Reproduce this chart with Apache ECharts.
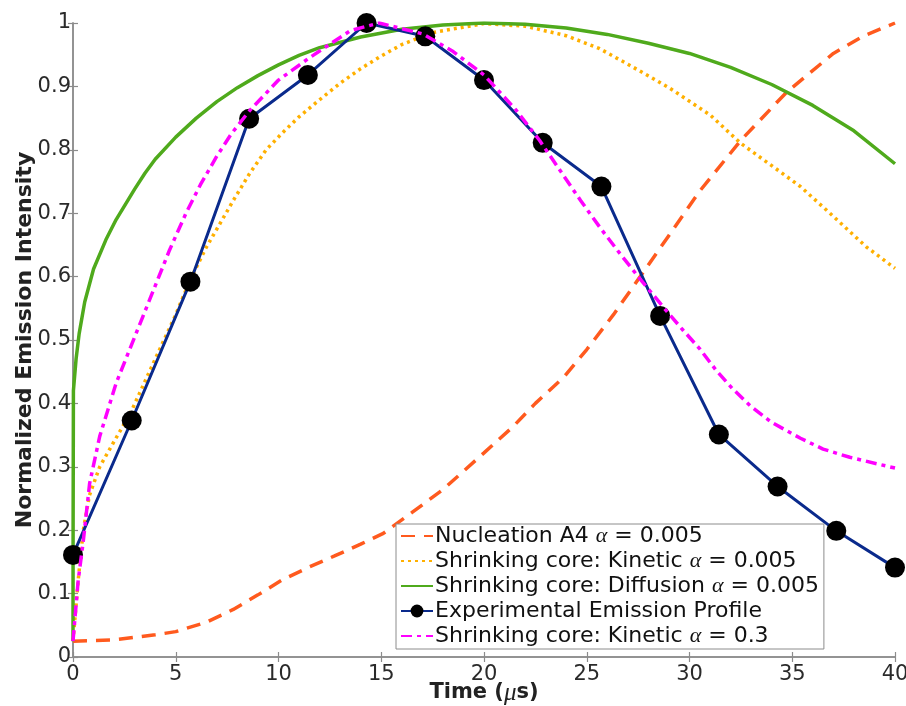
<!DOCTYPE html>
<html>
<head>
<meta charset="utf-8">
<script src="https://cdn.jsdelivr.net/npm/echarts@6/dist/echarts.min.js"></script>
<style>html,body{margin:0;padding:0;background:#fff}#c{width:906px;height:706px}</style>
</head>
<body>
<div id="c"></div>
<script>
// ---- data ----
const xTicks = [0, 5, 10, 15, 20, 25, 30, 35, 40];
const yTicks = [0, 0.1, 0.2, 0.3, 0.4, 0.5, 0.6, 0.7, 0.8, 0.9, 1];

const nucX = [0, 2, 4, 5, 6.5, 7.8, 9, 10.2, 11.5, 12.7, 14, 15.1, 16.5, 18, 20, 21.4, 22.5, 23.9, 25, 26.3, 27.6, 29, 30.5, 32.5, 34.7, 37, 38.5, 40];
const nucY = [0.025, 0.027, 0.035, 0.04, 0.055, 0.075, 0.098, 0.122, 0.142, 0.159, 0.178, 0.195, 0.228, 0.264, 0.322, 0.363, 0.4, 0.442, 0.485, 0.54, 0.6, 0.665, 0.735, 0.815, 0.89, 0.952, 0.98, 1.0];

const kinX = [0, 0.25, 0.5, 0.8, 1.3, 2, 2.8, 4, 5, 5.7, 6.5, 7.8, 8.6, 9.4, 10.2, 11, 11.85, 13, 14, 15, 16, 17.5, 20, 22, 24, 25.6, 27, 29, 31, 32.5, 34, 35.4, 37, 38.6, 40];
const kinY = [0.025, 0.12, 0.2, 0.255, 0.3, 0.34, 0.385, 0.47, 0.54, 0.595, 0.647, 0.72, 0.763, 0.8, 0.827, 0.852, 0.875, 0.905, 0.928, 0.948, 0.966, 0.985, 0.999, 0.995, 0.98, 0.96, 0.935, 0.898, 0.855, 0.81, 0.775, 0.742, 0.695, 0.647, 0.613];

const difX = [0, 0.005, 0.02, 0.15, 0.3, 0.57, 1, 1.6, 2.1, 3, 3.5, 4, 5, 6, 7, 8, 9, 10, 11, 12, 14, 16, 18, 20, 22, 24, 26, 28, 30, 32, 34, 36, 38, 40];
const difY = [0.025, 0.2, 0.42, 0.47, 0.51, 0.56, 0.612, 0.658, 0.69, 0.738, 0.763, 0.785, 0.82, 0.85, 0.876, 0.898, 0.917, 0.934, 0.949, 0.961, 0.978, 0.99, 0.997, 1.0, 0.998, 0.992, 0.982, 0.968, 0.952, 0.93, 0.903, 0.87, 0.83, 0.778];

const expX = [0, 2.857, 5.714, 8.571, 11.429, 14.286, 17.143, 20, 22.857, 25.714, 28.571, 31.429, 34.286, 37.143, 40];
const expY = [0.161, 0.373, 0.592, 0.849, 0.918, 1.0, 0.979, 0.91, 0.811, 0.742, 0.538, 0.351, 0.269, 0.199, 0.141];

const k3X = [0, 0.25, 0.49, 0.81, 1.3, 2.1, 3.4, 4.7, 5.5, 6.2, 7, 7.7, 8.6, 10, 11.5, 13.5, 14.9, 17, 18.5, 20, 21.5, 22.7, 24.7, 25.7, 26.6, 27.6, 28.9, 29.7, 30.5, 31.3, 32.1, 33, 34, 35.4, 36.5, 37.8, 40];
const k3Y = [0.025, 0.12, 0.18, 0.274, 0.348, 0.432, 0.537, 0.642, 0.7, 0.745, 0.79, 0.825, 0.862, 0.91, 0.945, 0.988, 1.0, 0.983, 0.955, 0.918, 0.865, 0.815, 0.72, 0.675, 0.637, 0.596, 0.545, 0.515, 0.486, 0.452, 0.423, 0.395, 0.37, 0.345, 0.328, 0.315, 0.298];

const names = [
  'Nucleation A4 α = 0.005',
  'Shrinking core: Kinetic α = 0.005',
  'Shrinking core: Diffusion α = 0.005',
  'Experimental Emission Profile',
  'Shrinking core: Kinetic α = 0.3'
];

const zip = (xs, ys) => xs.map((x, i) => [x, ys[i]]);

const chart = echarts.init(document.getElementById('c'), null, {renderer: 'canvas'});
const axisColor = '#8c8c8c';
const FONT = 'DejaVu Sans, Verdana, sans-serif';
const SERIF = 'Liberation Serif, Times New Roman, serif';
const labelStyle = {color: '#2a2a2a', fontSize: 21, fontFamily: FONT};

chart.setOption({
  animation: false,
  backgroundColor: '#fff',
  grid: {left: 73, right: 11, top: 23, bottom: 49, containLabel: false, outerBoundsMode: 'none'},
  xAxis: [{
    type: 'value', min: 0, max: 40, interval: 5, position: 'bottom',
    name: '{b|Time (}{m|μ}{b|s)}', nameLocation: 'middle', nameGap: 25, nameMoveOverlap: false,
    nameTextStyle: {rich: {
      b: {fontSize: 21, lineHeight: 22, fontWeight: 'bold', color: '#222', fontFamily: FONT},
      m: {fontSize: 25, lineHeight: 22, fontStyle: 'italic', color: '#222', fontFamily: SERIF}
    }},
    axisLine: {lineStyle: {color: axisColor, width: 1.5}},
    axisTick: {inside: true, length: 5, lineStyle: {color: axisColor, width: 1.2}},
    axisLabel: Object.assign({margin: 7, formatter: v => xTicks.includes(v) ? String(v) : ''}, labelStyle),
    splitLine: {show: false}
  }, {
    type: 'value', min: 0, max: 40, interval: 5, position: 'top',
    axisLine: {lineStyle: {color: axisColor, width: 1.5}},
    axisTick: {inside: true, length: 5, lineStyle: {color: axisColor, width: 1.2}},
    axisLabel: {show: false}, splitLine: {show: false}
  }],
  yAxis: [{
    type: 'value', min: 0, max: 1, interval: 0.1, position: 'left',
    name: 'Normalized Emission Intensity', nameLocation: 'middle', nameGap: 37, nameMoveOverlap: false,
    nameTextStyle: {fontSize: 22, fontWeight: 'bold', color: '#222', fontFamily: FONT},
    axisLine: {lineStyle: {color: axisColor, width: 1.5}},
    axisTick: {inside: true, length: 5, lineStyle: {color: axisColor, width: 1.2}},
    axisLabel: Object.assign({margin: 2, formatter: v => {
      const t = yTicks.find(k => Math.abs(k - v) < 1e-6);
      return t === undefined ? '' : String(t);
    }}, labelStyle),
    splitLine: {show: false}
  }, {
    type: 'value', min: 0, max: 1, interval: 0.1, position: 'right',
    axisLine: {lineStyle: {color: axisColor, width: 1.5}},
    axisTick: {inside: true, length: 5, lineStyle: {color: axisColor, width: 1.2}},
    axisLabel: {show: false}, splitLine: {show: false}
  }],
  legend: {
    data: names.map((n, i) => i === 3 ? {name: n} : {name: n, itemStyle: {opacity: 0}}),
    orient: 'vertical',
    left: 396, top: 524,
    padding: [1, 5, 2, 4],
    itemGap: 3,
    itemWidth: 32, itemHeight: 16,
    backgroundColor: '#fff',
    borderColor: '#8c8c8c', borderWidth: 1,
    formatter: n => n.replace('α', '{a|α}'),
    textStyle: {
      fontSize: 22, color: '#111', lineHeight: 21, padding: [0, 0, 0, -3],
      fontFamily: FONT,
      rich: {a: {fontSize: 22, lineHeight: 21, fontStyle: 'italic', fontFamily: SERIF, color: '#111'}}
    }
  },
  series: [
    {name: names[0], type: 'line', data: zip(nucX, nucY), showSymbol: false, z: 2,
     lineStyle: {color: '#ff5a1e', width: 3.5, type: [14, 9]}, itemStyle: {color: '#ff5a1e'}},
    {name: names[1], type: 'line', data: zip(kinX, kinY), showSymbol: false, z: 2,
     lineStyle: {color: '#ffb000', width: 3.5, type: [3, 4]}, itemStyle: {color: '#ffb000'}},
    {name: names[2], type: 'line', data: zip(difX, difY), showSymbol: false, z: 2,
     lineStyle: {color: '#4faa1c', width: 3.5}, itemStyle: {color: '#4faa1c'}},
    {name: names[3], type: 'line', data: zip(expX, expY), symbol: 'circle', symbolSize: 20, z: 3,
     lineStyle: {color: '#0a2a8c', width: 3}, itemStyle: {color: '#000'}},
    {name: names[4], type: 'line', data: zip(k3X, k3Y), showSymbol: false, z: 4,
     lineStyle: {color: '#ff00ff', width: 3.5, type: [11, 5, 4, 5]}, itemStyle: {color: '#ff00ff'}}
  ]
});
</script>
</body>
</html>
